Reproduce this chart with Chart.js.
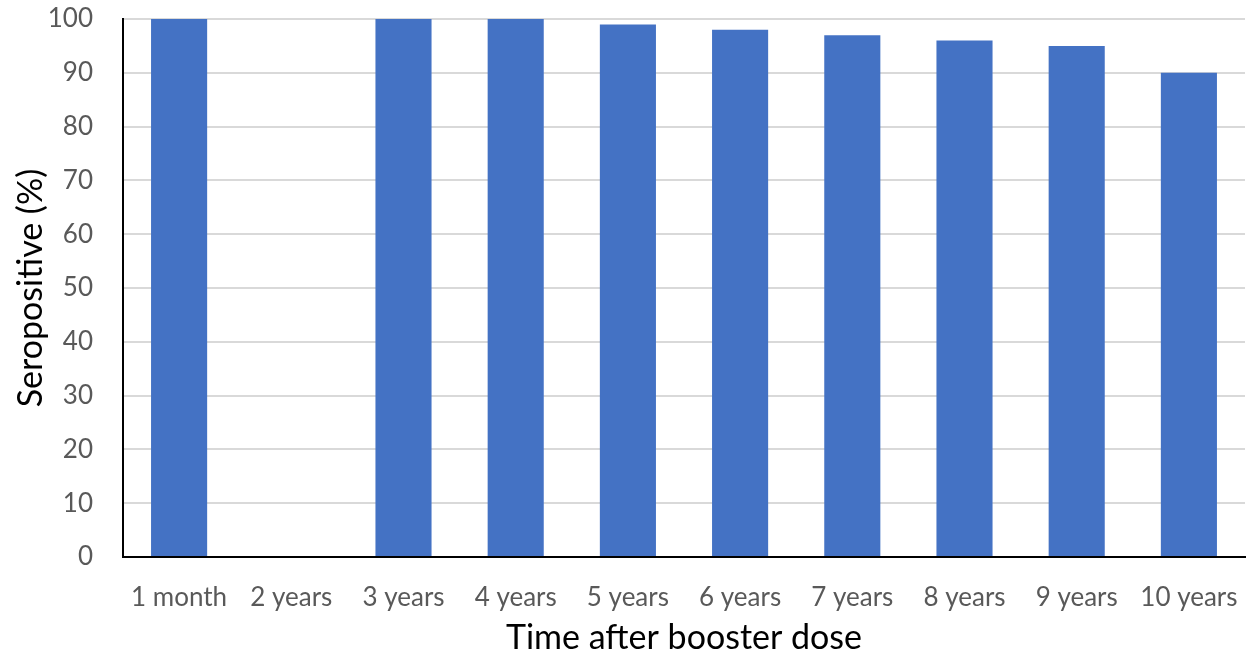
<!DOCTYPE html>
<html>
<head>
<meta charset="utf-8">
<script src="https://cdn.jsdelivr.net/npm/chart.js@4/dist/chart.umd.min.js"></script>
<style>
  html, body { margin: 0; padding: 0; background: #ffffff; }
  #wrap { width: 1247px; height: 655px; }
</style>
</head>
<body>
<div id="wrap"><canvas id="c" width="1247" height="655"></canvas></div>
<script>
// Share of seropositive subjects after the booster dose
const timepoints = ['1 month', '2 years', '3 years', '4 years', '5 years', '6 years', '7 years', '8 years', '9 years', '10 years'];
const seropositive = [100, null, 100, 100, 99, 98, 97, 96, 95, 90];
const yTicks = [0, 10, 20, 30, 40, 50, 60, 70, 80, 90, 100];

const tickFont = { family: 'Lato', size: 26 };
const titleFont = { family: 'Lato', size: 34, lineHeight: 1 };

new Chart(document.getElementById('c'), {
  type: 'bar',
  data: {
    labels: timepoints,
    datasets: [{
      data: seropositive,
      backgroundColor: '#4472C4',
      borderWidth: 0,
      barPercentage: 0.5,
      categoryPercentage: 1.0
    }]
  },
  options: {
    responsive: false,
    animation: false,
    layout: { padding: { top: 19, right: 2, left: 0, bottom: 0 } },
    plugins: { legend: { display: false }, tooltip: { enabled: false } },
    scales: {
      x: {
        grid: { display: false, drawTicks: false },
        border: { color: '#000000', width: 2 },
        ticks: { color: '#595959', font: tickFont, padding: 25, maxRotation: 0, autoSkip: false },
        title: { display: true, text: 'Time after booster dose', color: '#000000', font: titleFont, padding: { top: 0, bottom: 0 } },
        afterFit: (s) => { s.height = 98; s.paddingLeft = 0; s.paddingRight = 0; }
      },
      y: {
        min: 0, max: 100,
        afterBuildTicks: (s) => { s.ticks = yTicks.map(v => ({ value: v })); },
        grid: { color: '#d9d9d9', lineWidth: 2, drawTicks: false },
        border: { color: '#000000', width: 2 },
        ticks: { color: '#595959', font: tickFont, padding: 30 },
        title: { display: true, text: 'Seropositive (%)', color: '#000000', font: titleFont, padding: { top: 14, bottom: 0 } },
        afterFit: (s) => { s.width = 123; s.paddingTop = 0; s.paddingBottom = 0; }
      }
    }
  }
});
</script>
</body>
</html>
